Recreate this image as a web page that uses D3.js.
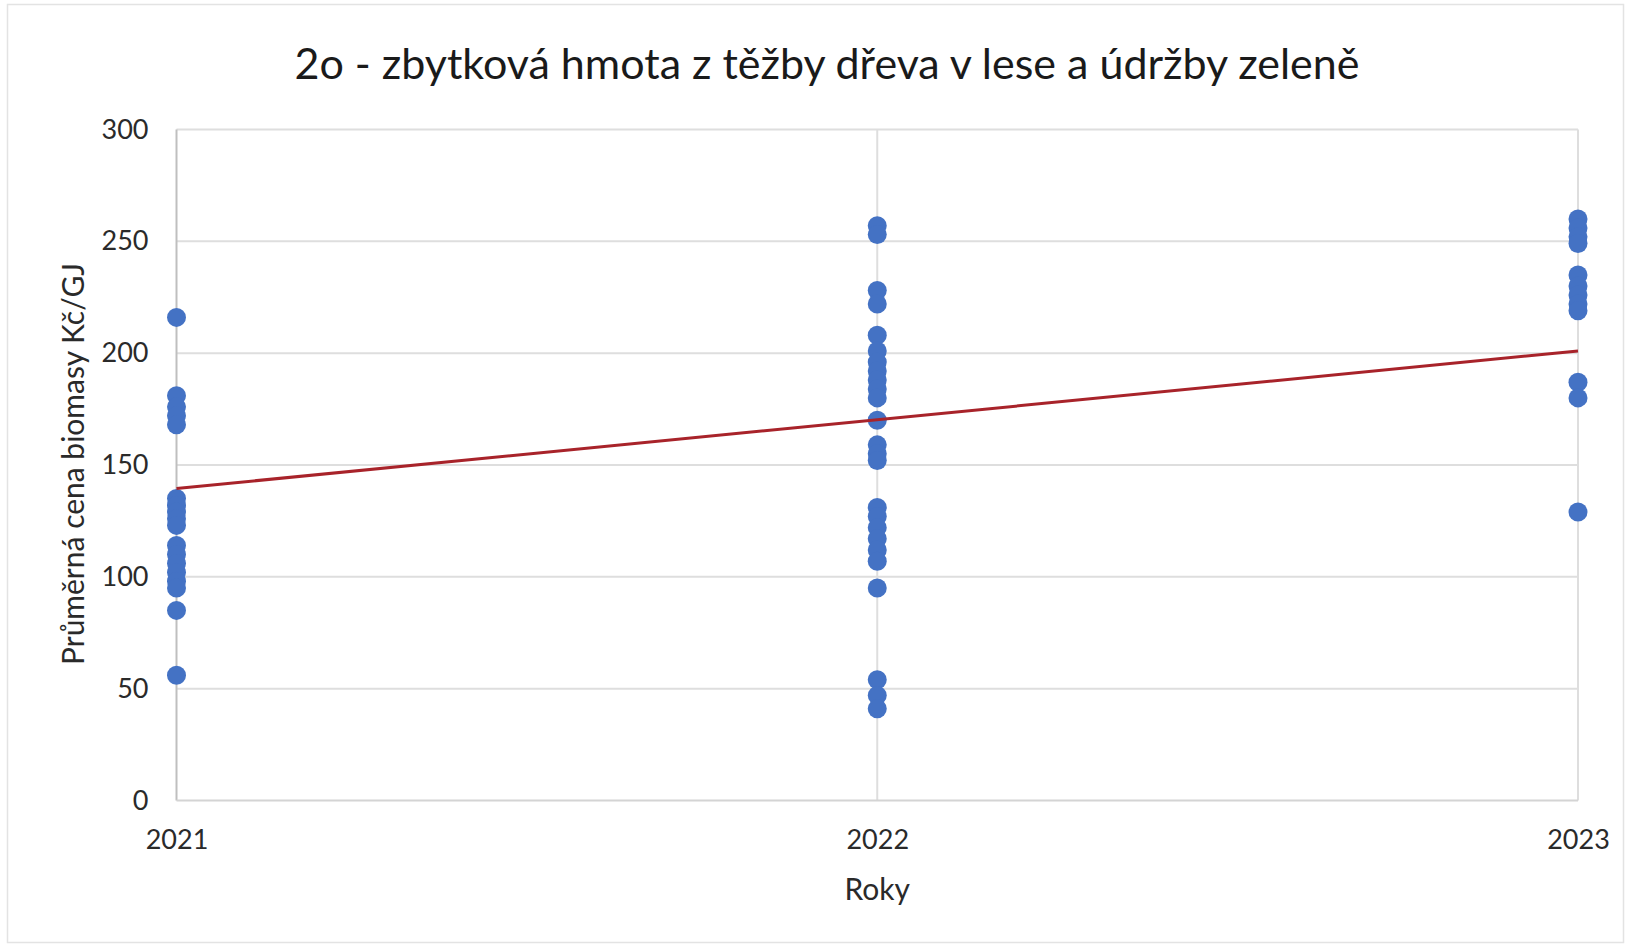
<!DOCTYPE html>
<html>
<head>
<meta charset="utf-8">
<script src="https://cdn.jsdelivr.net/npm/d3@7"></script>
<style>
  html, body { margin: 0; padding: 0; background: #fff; }
  svg { display: block; font-family: Lato, "Open Sans", sans-serif; }
</style>
</head>
<body>
<svg id="chart" width="1626" height="947"></svg>
<script>
// ---- data ----
const years = [2021, 2022, 2023];
const values2021 = [216, 181, 176, 172, 168, 135, 132, 129, 126, 123, 114, 110, 106, 102, 98, 95, 85, 56];
const values2022 = [257, 253, 228, 222, 208, 201, 196, 192, 188, 184, 180, 170, 159, 155, 152, 131, 127, 122, 117, 112, 107, 95, 54, 47, 41];
const values2023 = [260, 256, 252, 249, 235, 230, 226, 222, 219, 187, 180, 129];
const trendYears = [2021, 2023];
const trendValues = [139.5, 201];
const yTicks = [0, 50, 100, 150, 200, 250, 300];
const title = "2o - zbytková hmota z těžby dřeva v lese a údržby zeleně";
const xTitle = "Roky";
const yTitle = "Průměrná cena biomasy Kč/GJ";

const points = []
  .concat(values2021.map(v => ({year: 2021, value: v})))
  .concat(values2022.map(v => ({year: 2022, value: v})))
  .concat(values2023.map(v => ({year: 2023, value: v})));

const svg = d3.select("#chart");

// outer border
svg.append("rect")
  .attr("x", 7.5).attr("y", 4.5).attr("width", 1616).attr("height", 938)
  .attr("fill", "none").attr("stroke", "#e3e3e3").attr("stroke-width", 1.5);

const x = d3.scaleLinear().domain([2021, 2023]).range([176.5, 1578]);
const y = d3.scaleLinear().domain([0, 300]).range([800.5, 129.5]);

// horizontal gridlines
svg.append("g")
  .selectAll("line").data(yTicks.filter(t => t > 0)).join("line")
  .attr("x1", x(2021)).attr("x2", x(2023))
  .attr("y1", d => y(d)).attr("y2", d => y(d))
  .attr("stroke", "#dedede").attr("stroke-width", 2);

// vertical gridlines
svg.append("g")
  .selectAll("line").data(years.slice(1)).join("line")
  .attr("x1", d => x(d)).attr("x2", d => x(d))
  .attr("y1", y(0)).attr("y2", y(300))
  .attr("stroke", "#dedede").attr("stroke-width", 2);

// axes lines
svg.append("line")
  .attr("x1", x(2021)).attr("x2", x(2021)).attr("y1", y(0)).attr("y2", y(300))
  .attr("stroke", "#bfbfbf").attr("stroke-width", 2);
svg.append("line")
  .attr("x1", x(2021)).attr("x2", x(2023)).attr("y1", y(0)).attr("y2", y(0))
  .attr("stroke", "#d4d4d4").attr("stroke-width", 2);

// y tick labels
const yAxis = d3.axisLeft(y).tickValues(yTicks).tickSize(0).tickPadding(0).tickFormat(d3.format("d"));
const gy = svg.append("g").attr("transform", `translate(${x(2021) - 28},0)`).call(yAxis);
gy.select(".domain").remove();
gy.selectAll("text").attr("font-size", 27).attr("fill", "#2a2a2a").attr("font-family", "Lato, 'Open Sans', sans-serif");

// x tick labels
const xAxis = d3.axisBottom(x).tickValues(years).tickSize(0).tickPadding(0).tickFormat(d3.format("d"));
const gx = svg.append("g").attr("transform", `translate(0,${y(0) + 29})`).call(xAxis);
gx.select(".domain").remove();
gx.selectAll("text").attr("font-size", 27).attr("fill", "#2a2a2a").attr("font-family", "Lato, 'Open Sans', sans-serif");

// points
svg.append("g")
  .selectAll("circle").data(points).join("circle")
  .attr("cx", d => x(d.year)).attr("cy", d => y(d.value))
  .attr("r", 9.5).attr("fill", "#4472C4");

// trend line
svg.append("path")
  .datum(trendYears.map((yr, i) => [yr, trendValues[i]]))
  .attr("d", d3.line().x(d => x(d[0])).y(d => y(d[1])))
  .attr("stroke", "#a8232a").attr("stroke-width", 3).attr("fill", "none");

// title
svg.append("text")
  .attr("x", 827).attr("y", 79).attr("text-anchor", "middle")
  .attr("font-size", 43).attr("fill", "#1a1a1a").text(title);

// x title
svg.append("text")
  .attr("x", x(2022)).attr("y", 900).attr("text-anchor", "middle")
  .attr("font-size", 30).attr("fill", "#2a2a2a").text(xTitle);

// y title
svg.append("text")
  .attr("transform", `translate(84,${(y(0) + y(300)) / 2 - 1}) rotate(-90)`)
  .attr("text-anchor", "middle")
  .attr("font-size", 30).attr("fill", "#2a2a2a").text(yTitle);
</script>
</body>
</html>
